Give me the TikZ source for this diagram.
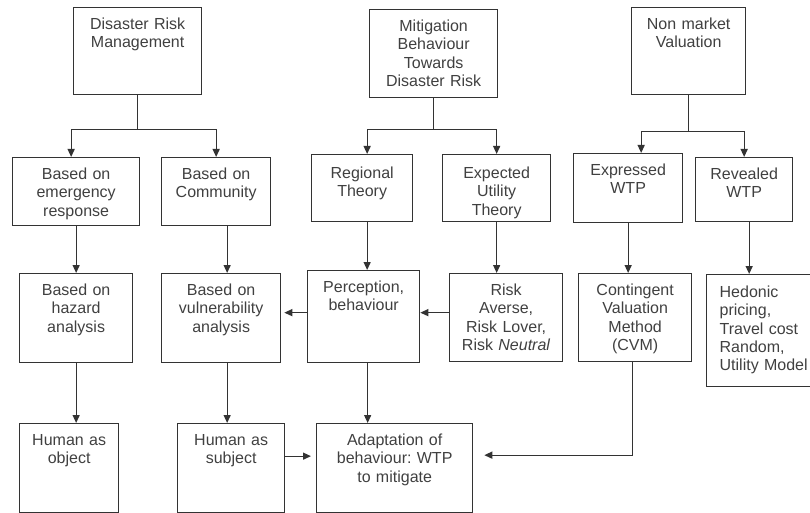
\documentclass[tikz,border=0pt]{standalone}
\usepackage{fontspec}
\setmainfont{Liberation Sans}
\usetikzlibrary{arrows.meta}
\frenchspacing

\begin{document}
\begin{tikzpicture}[
    x=1pt, y=-1pt,
    box/.style={rectangle, draw=black!80, line width=1.3pt, inner sep=0pt,
                anchor=north west, align=center, text height=22pt, text=black!75,
                font=\fontsize{16pt}{18.3pt}\selectfont},
    arr/.style={-{Triangle[length=8pt,width=7pt]}, line width=1.3pt, draw=black!80},
]
    \useasboundingbox (0,0) rectangle (810,513);

    % top row
    \node[box, text width=128pt, text depth=65pt] (drm) at (73,7)  {Disaster Risk\\Management};
    \node[box, text width=128pt, text depth=66pt] (mb)  at (369,9) {Mitigation\\Behaviour\\Towards\\Disaster Risk};
    \node[box, text width=114pt, text depth=65pt] (nmv) at (631,7) {Non market\\Valuation};

    % second row
    \node[box, text width=127pt, text depth=46pt] (emer)      at (12,157)  {Based on\\emergency\\response};
    \node[box, text width=109pt, text depth=46pt] (comm)      at (161,157) {Based on\\Community};
    \node[box, text width=101pt, text height=24pt, text depth=43pt] (regional) at (311,154) {Regional\\Theory};
    \node[box, text width=108pt, text height=24pt, text depth=43pt] (expected) at (442,154) {Expected\\Utility\\Theory};
    \node[box, text width=109pt, text depth=47pt] (expressed) at (573,153) {Expressed\\WTP};
    \node[box, text width=97pt,  text depth=42pt] (revealed)  at (695,157) {Revealed\\WTP};

    % third row
    \node[box, text width=113pt, text depth=67pt] (hazard) at (19,273)  {Based on\\hazard\\analysis};
    \node[box, text width=119pt, text depth=67pt] (vuln)   at (161,273) {Based on\\vulnerability\\analysis};
    \node[box, text width=112pt, text depth=70pt] (percep) at (307,270) {Perception,\\behaviour};
    \node[box, text width=113pt, text depth=66pt] (risk)   at (449,273) {Risk\\Averse,\\Risk Lover,\\Risk \textit{Neutral}};
    \node[box, text width=113pt, text depth=66pt] (cvm)    at (578,273) {Contingent\\Valuation\\Method\\(CVM)};
    \node[box, text width=96pt, inner xsep=13pt, align=left, text height=23pt, text depth=89pt]
        (hedonic) at (706,274) {Hedonic\\pricing,\\Travel cost\\Random,\\Utility Model};

    % bottom row
    \node[box, text width=99pt,  text depth=67pt] (hobj)  at (19,423)  {Human as\\object};
    \node[box, text width=107pt, text depth=67pt] (hsubj) at (177,423) {Human as\\subject};
    \node[box, text width=156pt, text depth=67pt] (adapt) at (316,423) {Adaptation of\\behaviour: WTP\\to mitigate};

    % branches from the top row
    \draw[arr] (drm.south) -- ++(0,34) -| ([xshift=-5pt]emer.north);
    \draw[arr] (drm.south) -- ++(0,34) -| (comm.north);
    \draw[arr] (mb.south)  -- ++(0,31) -| ([xshift=5pt]regional.north);
    \draw[arr] (mb.south)  -- ++(0,31) -| (expected.north);
    \draw[arr] (nmv.south) -- ++(0,36) -| ([xshift=13pt]expressed.north);
    \draw[arr] (nmv.south) -- ++(0,36) -| (revealed.north);

    % downward links
    \draw[arr] (emer.south) -- (emer.south |- hazard.north);
    \draw[arr] ([xshift=11pt]comm.south) -- ([xshift=11pt]comm.south |- vuln.north);
    \draw[arr] ([xshift=5pt]regional.south) -- ([xshift=5pt]regional.south |- percep.north);
    \draw[arr] (expected.south) -- (expected.south |- risk.north);
    \draw[arr] (expressed.south) -- (expressed.south |- cvm.north);
    \draw[arr] ([xshift=5pt]revealed.south) -- ([xshift=5pt]revealed.south |- hedonic.north);
    \draw[arr] (hazard.south) -- (hazard.south |- hobj.north);
    \draw[arr] ([xshift=6pt]vuln.south) -- ([xshift=6pt]vuln.south |- hsubj.north);
    \draw[arr] ([xshift=4pt]percep.south) -- ([xshift=4pt]percep.south |- adapt.north);

    % sideways links
    \draw[arr] ([yshift=5pt]risk.west) -- ([yshift=5pt]risk.west -| percep.east);
    \draw[arr, shorten >=3pt] ([yshift=4pt]percep.west) -- ([yshift=4pt]percep.west -| vuln.east);
    \draw[arr, shorten >=5pt] ([yshift=12pt]hsubj.east) -- ([yshift=12pt]hsubj.east -| adapt.west);
    \draw[arr, shorten >=11pt] ([xshift=-3pt]cvm.south) |- ([yshift=13pt]adapt.east);
\end{tikzpicture}
\end{document}
